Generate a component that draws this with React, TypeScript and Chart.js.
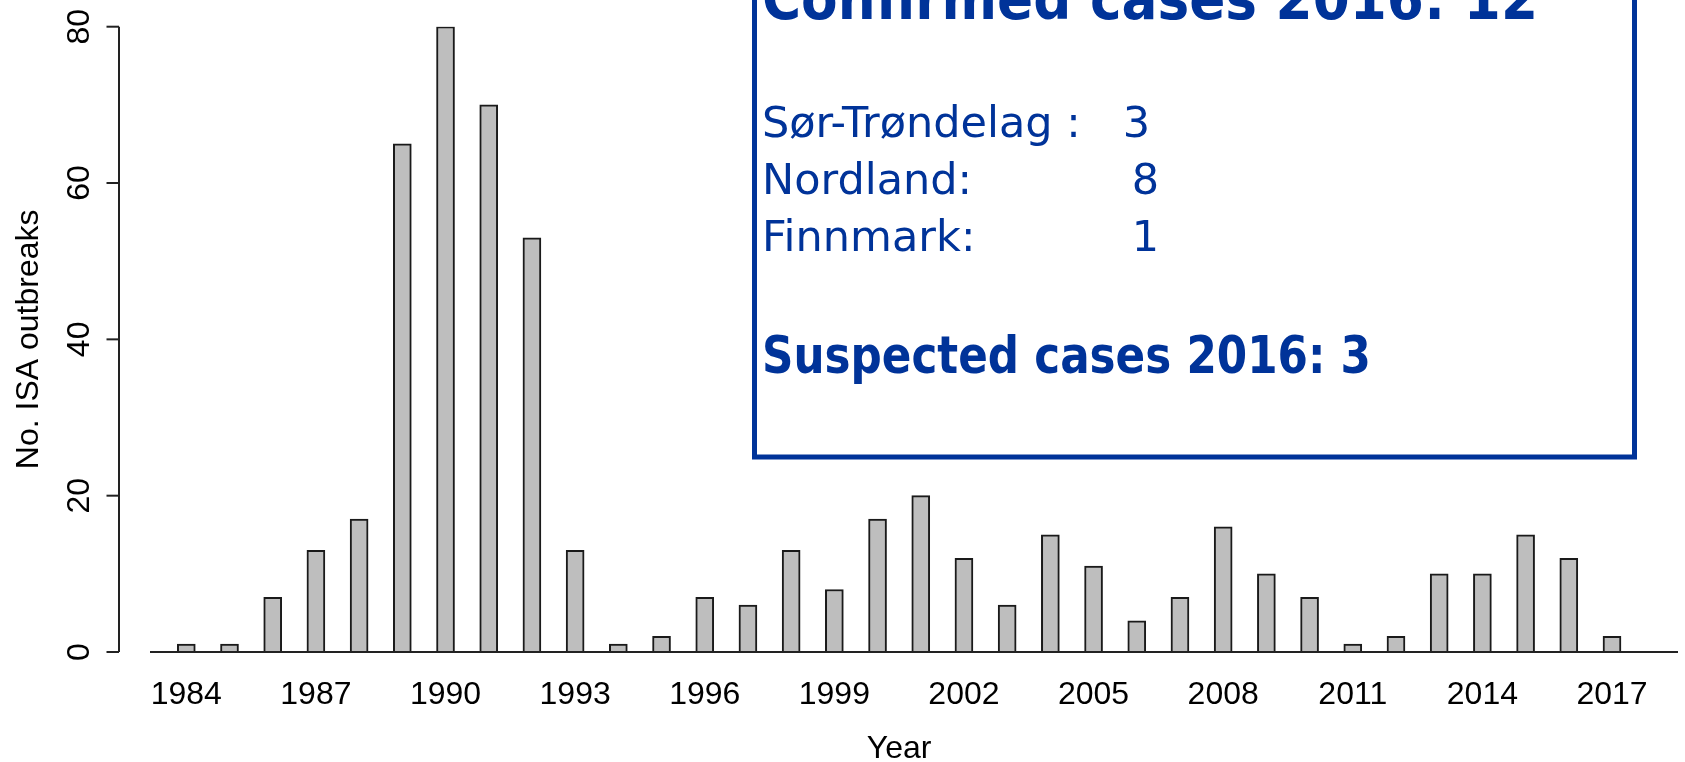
import React, { useEffect, useRef } from "react";
import { Chart, registerables } from "chart.js";

Chart.register(...registerables);

// ---- data ----
const years = [
  "1984", "1985", "1986", "1987", "1988", "1989", "1990", "1991", "1992", "1993",
  "1994", "1995", "1996", "1997", "1998", "1999", "2000", "2001", "2002", "2003",
  "2004", "2005", "2006", "2007", "2008", "2009", "2010", "2011", "2012", "2013",
  "2014", "2015", "2016", "2017",
];
const outbreaks = [
  1, 1, 7, 13, 17, 65, 80, 70, 53, 13,
  1, 2, 7, 6, 13, 8, 17, 20, 12, 6,
  15, 11, 4, 7, 16, 10, 7, 1, 2, 10,
  10, 15, 12, 2,
];
const xTickLabels = ["1984", "1987", "1990", "1993", "1996", "1999", "2002", "2005", "2008", "2011", "2014", "2017"];
const yTickValues = [0, 20, 40, 60, 80];
const xTitle = "Year";
const yTitle = "No. ISA outbreaks";
const boxTitle = "Confirmed cases 2016: 12";
const regionNames = ["Sør-Trøndelag :", "Nordland:", "Finnmark:"];
const regionCases = ["3", "8", "1"];
const suspectedText = "Suspected cases 2016: 3";

const AXIS_FONT = '"Liberation Sans", Arial, Helvetica, sans-serif';
const BOX_FONT = '"DejaVu Sans", Verdana, sans-serif';
const BLUE = "#003399";

const decorPlugin = {
  id: "decor",
  afterDatasetsDraw(chart: any) {
    const ctx = chart.ctx as CanvasRenderingContext2D;
    const y = chart.scales.y;
    const area = chart.chartArea;
    const y0 = y.getPixelForValue(0);
    ctx.save();
    ctx.strokeStyle = "#222";
    ctx.lineWidth = 2;
    // baseline (R abline-style across plot region)
    ctx.beginPath();
    ctx.moveTo(150, y0);
    ctx.lineTo(1678, y0);
    ctx.stroke();
    // y axis (R style, offset from plot)
    const axisX = 119;
    const yFirst = y.getPixelForValue(yTickValues[0]);
    const yLast = y.getPixelForValue(yTickValues[yTickValues.length - 1]);
    ctx.beginPath();
    ctx.moveTo(axisX, yFirst);
    ctx.lineTo(axisX, yLast);
    ctx.stroke();
    ctx.fillStyle = "#000";
    ctx.font = `32px ${AXIS_FONT}`;
    ctx.textAlign = "center";
    ctx.textBaseline = "middle";
    for (const v of yTickValues) {
      const py = y.getPixelForValue(v);
      ctx.beginPath();
      ctx.moveTo(axisX, py);
      ctx.lineTo(axisX - 12.5, py);
      ctx.stroke();
      ctx.save();
      ctx.translate(80, py);
      ctx.rotate(-Math.PI / 2);
      ctx.fillText(String(v), 0, 0);
      ctx.restore();
    }
    // y title
    ctx.save();
    ctx.translate(29, (area.top + area.bottom) / 2);
    ctx.rotate(-Math.PI / 2);
    ctx.fillText(yTitle, 0, 0);
    ctx.restore();
    ctx.restore();
  },
  afterDraw(chart: any) {
    const ctx = chart.ctx as CanvasRenderingContext2D;
    ctx.save();
    // annotation box
    ctx.fillStyle = "#fff";
    ctx.fillRect(754.5, -20, 880, 477);
    ctx.strokeStyle = BLUE;
    ctx.lineWidth = 5;
    ctx.strokeRect(754.5, -20, 880, 477);
    ctx.fillStyle = BLUE;
    ctx.textAlign = "left";
    ctx.textBaseline = "alphabetic";
    ctx.font = `bold 58px ${BOX_FONT}`;
    ctx.fillText(boxTitle, 762, 19, 776);
    ctx.font = `43px ${BOX_FONT}`;
    const baselines = [137, 194, 251];
    const numRight = [1150, 1159, 1159];
    regionNames.forEach((name, i) => {
      ctx.textAlign = "left";
      ctx.fillText(name, 762, baselines[i]);
      ctx.textAlign = "right";
      ctx.fillText(regionCases[i], numRight[i], baselines[i]);
    });
    ctx.textAlign = "left";
    ctx.font = `bold 51px ${BOX_FONT}`;
    ctx.fillText(suspectedText, 762, 373, 609);
    ctx.restore();
  },
};

export default function App() {
  const canvasRef = useRef<HTMLCanvasElement | null>(null);

  useEffect(() => {
    const canvas = canvasRef.current;
    if (!canvas) return;
    const chart = new Chart(canvas, {
      type: "bar",
      data: {
        labels: years,
        datasets: [
          {
            label: "Outbreaks",
            data: outbreaks,
            backgroundColor: "#bebebe",
            borderColor: "#1a1a1a",
            borderWidth: 2,
            barThickness: 18,
          },
        ],
      },
      options: {
        animation: false,
        responsive: false,
        devicePixelRatio: 1,
        layout: { padding: { left: 164.7, right: 51.4, top: 26.7, bottom: 0 } },
        plugins: { legend: { display: false }, tooltip: { enabled: false } },
        scales: {
          x: {
            type: "category",
            offset: true,
            grid: { display: false, drawTicks: false },
            border: { display: false },
            ticks: {
              autoSkip: false,
              maxRotation: 0,
              minRotation: 0,
              padding: 27,
              color: "#000",
              font: { family: AXIS_FONT, size: 32, lineHeight: 1 },
              callback: function (this: any, value: any) {
                const lbl = this.getLabelForValue(value);
                return xTickLabels.includes(lbl) ? lbl : "";
              },
            },
            title: {
              display: true,
              text: xTitle,
              color: "#000",
              font: { family: AXIS_FONT, size: 32, lineHeight: 0.8 },
              padding: { top: 0, bottom: 0 },
            },
            afterFit: (scale: any) => {
              scale.height = 110;
            },
          },
          y: {
            display: false,
            min: 0,
            max: 80,
          },
        },
      },
      plugins: [decorPlugin],
    });
    return () => chart.destroy();
  }, []);

  return (
    <div style={{ position: "absolute", left: 0, top: 0, width: 1685, height: 762, background: "#fff" }}>
      <canvas ref={canvasRef} width={1685} height={762} style={{ display: "block" }} />
    </div>
  );
}
